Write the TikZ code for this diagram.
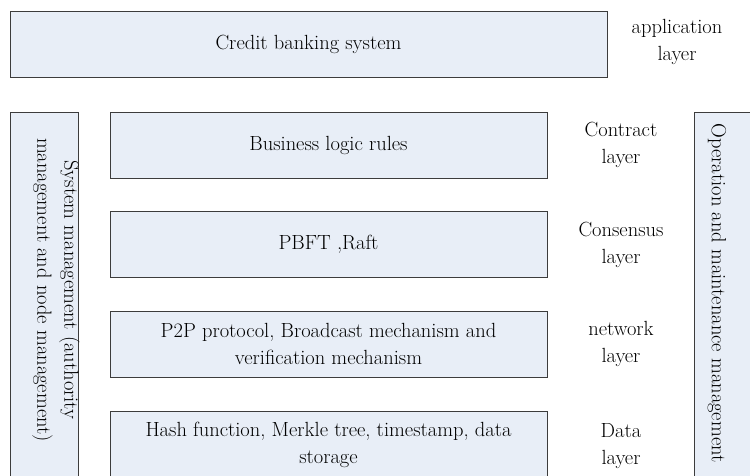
\documentclass[tikz,border=0pt]{standalone}
\usepackage{fontspec}
\newfontfamily\tnr{Latin Modern Roman}
\definecolor{boxfill}{RGB}{232,238,247}
\definecolor{boxline}{RGB}{60,60,60}
\begin{document}
\begin{tikzpicture}[x=1pt,y=-1pt,
  box/.style={draw=boxline, line width=0.9pt, fill=boxfill, inner sep=0pt, align=center, font=\tnr\fontsize{20.5}{27}\selectfont},
  lbl/.style={inner sep=0pt, align=center, font=\tnr\fontsize{20.5}{27}\selectfont},
  vtext/.style={inner sep=0pt, align=center, rotate=-90, font=\tnr\fontsize{20.5}{27}\selectfont}]
\clip (0,0) rectangle (750,475);
\fill[white] (0,0) rectangle (750,475);
% application layer
\node[box, minimum width=597pt, minimum height=66pt] (app) at (308.5,44) {Credit banking system};
\node[lbl] (applbl) at (677,42) {application\\layer};
% side boxes
\node[box, minimum width=68pt, minimum height=370pt] (sys) at (44,297) {};
\node[vtext] (systxt) at (56,290) {System management (authority\\management and node management)};
\node[box, minimum width=68pt, minimum height=370pt] (ops) at (728,297) {};
\node[vtext] (opstxt) at (717,293) {Operation and maintenance management};
% middle layers
\node[box, minimum width=437pt, minimum height=66pt] (contract) at (328.5,145) {Business logic rules};
\node[lbl] (contractlbl) at (621,145) {Contract\\layer};
\node[box, minimum width=437pt, minimum height=66pt] (consensus) at (328.5,244) {PBFT ,Raft};
\node[lbl] (consensuslbl) at (621,245) {Consensus\\layer};
\node[box, minimum width=437pt, minimum height=66pt] (network) at (328.5,344) {P2P protocol, Broadcast mechanism and\\verification mechanism};
\node[lbl] (networklbl) at (621,344) {network\\layer};
\node[box, minimum width=437pt, minimum height=68pt] (data) at (328.5,445) {Hash function, Merkle tree, timestamp, data\\storage};
\node[lbl] (datalbl) at (621,446) {Data\\layer};
\end{tikzpicture}
\end{document}
